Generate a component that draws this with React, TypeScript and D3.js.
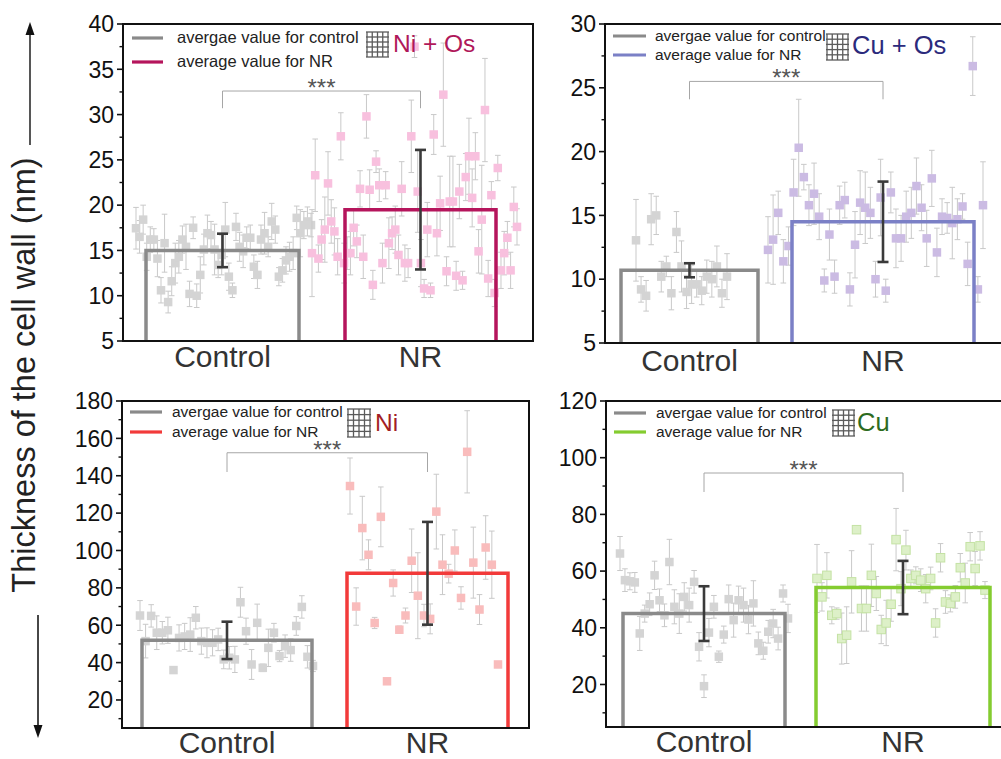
import React from "react";
import * as d3 from "d3";

// ---------- DATA ----------
const CATEGORIES = ["Control", "NR"];

// Panel 1: Ni + Os
const niOsDomain = [5, 40];
const niOsTicks = [5, 10, 15, 20, 25, 30, 35, 40];
const niOsMinor = [7.5, 12.5, 17.5, 22.5, 27.5, 32.5, 37.5];
const niOsMeans = [15.0, 19.5];
const niOsMeanErr = [1.85, 6.6];
const niOsSig = [32.6, 30.7];
const niOsCtrl = [17.45, 16.5, 18.4, 14.3, 16.2, 16.2, 14.1, 10.6, 15.8, 9.3, 11.6, 13.6, 14.3, 16.2, 15.4, 10.2, 17.5, 10.0, 12.3, 15.1, 16.9, 16.7, 15.1, 13.4, 14.5, 17.3, 12.1, 10.6, 17.6, 15.4, 14.9, 16.4, 16.4, 13.2, 12.3, 16.2, 16.9, 15.4, 18.2, 17.3, 12.1, 12.8, 13.9, 14.3, 14.7, 18.6, 16.9, 17.8, 18.2, 17.8];
const niOsCtrlErr = [2.3, 1.8, 1.6, 1.5, 1.4, 1.2, 2.0, 1.4, 3.2, 1.2, 1.6, 2.2, 1.8, 1.5, 2.5, 1.4, 1.2, 1.3, 2.0, 1.7, 2.0, 1.5, 2.8, 1.4, 2.2, 3.0, 1.5, 0.8, 1.5, 1.6, 1.8, 1.2, 1.4, 1.3, 1.5, 1.6, 2.3, 1.1, 2.0, 1.5, 1.0, 1.3, 1.5, 1.6, 1.8, 1.3, 2.6, 1.5, 1.6, 1.3];
const niOsNR = [14.7, 23.3, 14.1, 16.2, 17.3, 22.4, 18.2, 17.1, 14.3, 27.6, 13.6, 14.7, 14.7, 17.5, 16.0, 21.8, 14.3, 29.8, 21.7, 11.2, 24.8, 22.2, 13.6, 22.2, 15.8, 16.9, 17.3, 14.5, 21.8, 13.6, 13.6, 27.6, 37.5, 21.5, 13.6, 10.8, 17.3, 10.6, 27.8, 16.9, 20.2, 32.2, 12.7, 20.4, 20.4, 12.2, 21.5, 11.7, 23.1, 25.4, 20.8, 25.4, 14.9, 18.4, 30.5, 11.9, 21.1, 10.3, 24.1, 12.8, 14.7, 16.4, 12.8, 19.8, 17.6];
const niOsNRErr = [4.8, 4.0, 1.5, 2.2, 3.6, 3.5, 2.4, 2.6, 2.0, 2.6, 2.2, 1.8, 2.4, 2.0, 1.8, 2.0, 2.4, 2.4, 2.2, 1.6, 1.2, 1.8, 2.2, 1.5, 2.8, 1.8, 2.6, 2.2, 3.0, 2.0, 1.6, 4.0, 1.2, 4.5, 2.6, 1.0, 3.0, 0.8, 2.2, 2.5, 3.0, 5.7, 1.6, 5.0, 5.0, 1.6, 3.0, 1.0, 2.6, 4.2, 3.2, 2.6, 2.4, 6.0, 5.7, 2.0, 1.5, 1.5, 1.4, 2.0, 2.4, 1.8, 2.0, 2.2, 2.0];

// Panel 2: Cu + Os
const cuOsDomain = [5, 30];
const cuOsTicks = [5, 10, 15, 20, 25, 30];
const cuOsMinor = [7.5, 12.5, 17.5, 22.5, 27.5];
const cuOsMeans = [10.7, 14.5];
const cuOsMeanErr = [0.55, 3.15];
const cuOsSig = [25.5, 24.1];
const cuOsCtrl = [13.05, 9.2, 8.7, 14.7, 15.0, 10.2, 11.0, 8.9, 13.7, 11.0, 9.0, 9.6, 9.6, 9.1, 10.2, 10.0, 11.0, 8.9, 10.2];
const cuOsCtrlErr = [3.2, 1.0, 1.2, 2.0, 1.5, 1.2, 0.8, 1.3, 1.6, 2.0, 1.3, 1.5, 1.0, 1.1, 1.3, 1.4, 1.6, 1.1, 1.8];
const cuOsNR = [12.3, 13.1, 15.2, 11.4, 12.6, 16.8, 20.3, 18.0, 15.8, 16.7, 14.9, 9.9, 13.5, 10.2, 15.8, 16.2, 9.2, 12.7, 16.0, 15.6, 15.2, 10.0, 16.4, 9.1, 16.8, 13.2, 13.2, 14.9, 15.2, 17.3, 15.6, 13.2, 17.9, 12.1, 14.9, 14.8, 14.4, 14.7, 15.7, 11.2, 26.7, 9.2, 15.8];
const cuOsNRErr = [2.6, 3.5, 1.7, 1.7, 1.5, 2.6, 3.8, 1.0, 1.6, 2.4, 1.8, 0.9, 2.0, 1.3, 1.5, 1.4, 1.3, 2.6, 2.5, 2.8, 2.0, 1.4, 3.0, 0.9, 1.6, 2.3, 1.8, 2.0, 2.0, 2.2, 1.8, 2.2, 2.2, 1.9, 1.4, 1.2, 2.8, 1.6, 1.0, 1.7, 2.3, 1.0, 3.4];

// Panel 3: Ni
const niDomain = [5, 180];
const niTicks = [20, 40, 60, 80, 100, 120, 140, 160, 180];
const niMinor = [10, 30, 50, 70, 90, 110, 130, 150, 170];
const niMeans = [51.9, 87.8];
const niMeanErr = [10.0, 27.5];
const niSig = [152.3, 142.0];
const niCtrl = [65.2, 51.5, 65, 56, 56, 57.3, 36, 53.2, 54, 55, 64, 51.5, 50.6, 50.6, 52.4, 41.7, 42.6, 41.7, 72.3, 56.8, 39, 61.3, 37.2, 47.9, 56, 43.5, 48.8, 46.7, 59.6, 69.8, 43.1, 38.2];
const niCtrlErr = [8, 9, 6, 9, 6, 7, 1.5, 7, 7, 9, 6, 7, 8, 7, 6, 5, 6, 7, 8, 7, 8, 10, 2, 10, 5, 3, 6, 6, 5, 6, 6, 3];
const niNR = [134.5, 70, 112, 97.7, 61.2, 118, 30, 82.6, 57.6, 65.2, 94.5, 75.8, 65.2, 63.4, 120.8, 92.4, 87.6, 100, 74.6, 152.8, 93.5, 68.4, 101.6, 92.4, 39];
const niNRErr = [15, 10, 17, 8, 3, 16, 1.5, 7, 2, 4, 17, 23, 6, 8, 20, 16, 5, 11, 6, 22, 19, 8, 17, 18, 1.5];

// Panel 4: Cu
const cuDomain = [5, 120];
const cuTicks = [20, 40, 60, 80, 100, 120];
const cuMinor = [10, 30, 50, 70, 90, 110];
const cuMeans = [45.0, 54.2];
const cuMeanErr = [9.65, 9.4];
const cuSig = [94.6, 87.9];
const cuCtrl = [66.2, 56.8, 56.4, 56.0, 38.0, 45.0, 48.3, 58.5, 49.7, 44.4, 63.2, 47.4, 45.0, 50.9, 48.0, 56.2, 33.3, 19.4, 38.3, 47.4, 29.8, 37.6, 50.1, 42.7, 49.7, 48.0, 42.9, 48.6, 34.5, 31.9, 38.6, 41.5, 36.2, 52.1, 43.3];
const cuCtrlErr = [6, 4, 3, 3.5, 6, 3, 4, 5, 4, 4, 8, 6, 7, 5, 6, 4, 5, 4, 5, 4, 2, 3, 5, 6, 5, 6, 5, 8, 4, 3, 4, 5, 4, 3, 5];
const cuNR = [57.4, 50.9, 58.5, 44.4, 45, 36.2, 37.4, 56.2, 74.6, 46.8, 46.8, 58.5, 52.1, 39.4, 41.7, 48.3, 71.1, 53.8, 67.4, 57.4, 58.5, 56.8, 53.8, 57.4, 41.7, 64.7, 49.1, 48.6, 50.9, 61.2, 55.8, 68.6, 60.9, 68.9, 53.3];
const cuNRErr = [12, 5, 8, 3, 2, 9, 10, 11, 1, 8, 8, 11, 6, 5, 8, 6, 11, 6, 7, 3, 3, 4, 5, 4, 5, 5, 4, 3, 4, 5, 7, 5, 6, 5, 3];

const LEGEND_CTRL = "avergae value for control";
const LEGEND_NR = "average value for NR";
const AXIS_TITLE = "Thickness of the cell wall (nm)";

// ---------- STYLE / LAYOUT ----------
const FONT = "'Liberation Sans', Arial, Helvetica, sans-serif";
const CTRL_LINE = "#8a8a8a";
const CTRL_PT = "#d4d4d4";

const panels = [
  {
    id: "p1", title: "Ni + Os", titleColor: "#b0185a", nrColor: "#b5155c", nrPt: "#f8c0de", nrPtStroke: "none",
    domain: niOsDomain, ticks: niOsTicks, minor: niOsMinor, means: niOsMeans, meanErr: niOsMeanErr, sig: niOsSig,
    ctrl: niOsCtrl, ctrlErr: niOsCtrlErr, nr: niOsNR, nrErr: niOsNRErr,
    L: { axisX: 123, top: 24, bottom: 341, right: 533, ctrlBar: [146, 299], nrBar: [345, 496], ctrlPts: [136, 311], nrPts: [312, 517],
      leg: { x1: 132, x2: 163, y1: 38, y2: 62, tx: 177, fs: 16.5 }, title: { x: 393, y: 52, fs: 24.5 }, grid: { x: 367, y: 32, w: 21, h: 25 }, catY: 367, sq: 8.5 },
  },
  {
    id: "p2", title: "Cu + Os", titleColor: "#2b2a7c", nrColor: "#7b80c6", nrPt: "#cbbbe3", nrPtStroke: "none",
    domain: cuOsDomain, ticks: cuOsTicks, minor: cuOsMinor, means: cuOsMeans, meanErr: cuOsMeanErr, sig: cuOsSig,
    ctrl: cuOsCtrl, ctrlErr: cuOsCtrlErr, nr: cuOsNR, nrErr: cuOsNRErr,
    L: { axisX: 605, top: 24, bottom: 343, right: 1012, ctrlBar: [621, 758], nrBar: [792, 974], ctrlPts: [636, 727], nrPts: [768, 983],
      leg: { x1: 613, x2: 646, y1: 36, y2: 55, tx: 655, fs: 15.5 }, title: { x: 852, y: 54, fs: 25.5 }, grid: { x: 827, y: 34, w: 21, h: 26 }, catY: 371, sq: 8.5 },
  },
  {
    id: "p3", title: "Ni", titleColor: "#a31e24", nrColor: "#f23a3a", nrPt: "#f9bcbc", nrPtStroke: "none",
    domain: niDomain, ticks: niTicks, minor: niMinor, means: niMeans, meanErr: niMeanErr, sig: niSig,
    ctrl: niCtrl, ctrlErr: niCtrlErr, nr: niNR, nrErr: niNRErr,
    L: { axisX: 122, top: 401, bottom: 728, right: 529, ctrlBar: [142, 312], nrBar: [347, 508], ctrlPts: [140, 313], nrPts: [350, 498],
      leg: { x1: 130, x2: 162, y1: 412, y2: 432, tx: 172, fs: 15.5 }, title: { x: 375, y: 431, fs: 24.5 }, grid: { x: 348, y: 409, w: 22, h: 28 }, catY: 753, sq: 8.5 },
  },
  {
    id: "p4", title: "Cu", titleColor: "#2d6b1e", nrColor: "#84cc30", nrPt: "#ddf0c8", nrPtStroke: "#c4e2a4",
    domain: cuDomain, ticks: cuTicks, minor: cuMinor, means: cuMeans, meanErr: cuMeanErr, sig: cuSig,
    ctrl: cuCtrl, ctrlErr: cuCtrlErr, nr: cuNR, nrErr: cuNRErr,
    L: { axisX: 606, top: 401, bottom: 727, right: 1012, ctrlBar: [623, 785], nrBar: [816, 990], ctrlPts: [620, 788], nrPts: [817, 985],
      leg: { x1: 614, x2: 646, y1: 413, y2: 432, tx: 656, fs: 15.5 }, title: { x: 857, y: 431, fs: 25.5 }, grid: { x: 833, y: 410, w: 21, h: 26 }, catY: 752, sq: 8.5 },
  },
];

function Points({ vals, errs, x0, x1, y, fill, stroke, sq }) {
  const xs = d3.scaleLinear().domain([0, vals.length - 1]).range([x0, x1]);
  return (
    <g>
      {vals.map((v, i) => {
        const cx = xs(i);
        const yt = y(v + errs[i]);
        const yb = y(v - errs[i]);
        return (
          <g key={"e" + i} stroke="#c9c9c9" strokeWidth={1}>
            <line x1={cx} x2={cx} y1={yt} y2={yb} />
            <line x1={cx - 2.8} x2={cx + 2.8} y1={yt} y2={yt} />
            <line x1={cx - 2.8} x2={cx + 2.8} y1={yb} y2={yb} />
          </g>
        );
      })}
      {vals.map((v, i) => (
        <rect key={"s" + i} x={xs(i) - sq / 2} y={y(v) - sq / 2} width={sq} height={sq} fill={fill} stroke={stroke} strokeWidth={stroke === "none" ? 0 : 1} />
      ))}
    </g>
  );
}

function Panel({ p }) {
  const L = p.L;
  const y = d3.scaleLinear().domain(p.domain).range([L.bottom, L.top]);
  const bars = [L.ctrlBar, L.nrBar];
  const barColors = [CTRL_LINE, p.nrColor];
  const centers = bars.map((b) => (b[0] + b[1]) / 2);
  const clipId = "clip-" + p.id;
  const g = L.grid;
  return (
    <g>
      <defs>
        <clipPath id={clipId}>
          <rect x={L.axisX} y={L.top} width={L.right - L.axisX} height={L.bottom - L.top} />
        </clipPath>
      </defs>
      <g clipPath={`url(#${clipId})`}>
        <Points vals={p.ctrl} errs={p.ctrlErr} x0={L.ctrlPts[0]} x1={L.ctrlPts[1]} y={y} fill={CTRL_PT} stroke="none" sq={L.sq} />
        <Points vals={p.nr} errs={p.nrErr} x0={L.nrPts[0]} x1={L.nrPts[1]} y={y} fill={p.nrPt} stroke={p.nrPtStroke} sq={L.sq} />
        {p.means.map((m, i) => (
          <path key={"b" + i} d={`M${bars[i][0]},${L.bottom}L${bars[i][0]},${y(m)}L${bars[i][1]},${y(m)}L${bars[i][1]},${L.bottom}`}
            fill="none" stroke={barColors[i]} strokeWidth={3.5} />
        ))}
        {p.means.map((m, i) => {
          const cx = centers[i];
          const yt = y(m + p.meanErr[i]);
          const yb = y(m - p.meanErr[i]);
          return (
            <g key={"me" + i} stroke="#3a3a3a" strokeWidth={2.6}>
              <line x1={cx} x2={cx} y1={yt} y2={yb} />
              <line x1={cx - 5.5} x2={cx + 5.5} y1={yt} y2={yt} />
              <line x1={cx - 5.5} x2={cx + 5.5} y1={yb} y2={yb} />
            </g>
          );
        })}
      </g>
      {/* significance bracket */}
      <path d={`M${centers[0]},${y(p.sig[1])}L${centers[0]},${y(p.sig[0])}L${centers[1]},${y(p.sig[0])}L${centers[1]},${y(p.sig[1])}`}
        fill="none" stroke="#a6a6a6" strokeWidth={1} />
      <text x={(centers[0] + centers[1]) / 2} y={y(p.sig[0]) + 5} textAnchor="middle" fontFamily={FONT} fontSize={24} fill="#555">***</text>
      {/* frame */}
      <path d={`M${L.axisX},${L.top}L${L.right},${L.top}L${L.right},${L.bottom}L${L.axisX},${L.bottom}Z`} fill="none" stroke="#111" strokeWidth={2} />
      {/* y ticks */}
      {p.ticks.map((t) => (
        <g key={"t" + t}>
          <line x1={L.axisX - 6} x2={L.axisX} y1={y(t)} y2={y(t)} stroke="#111" strokeWidth={1.6} />
          <text x={L.axisX - 9} y={y(t)} dy="0.36em" textAnchor="end" fontFamily={FONT} fontSize={23} fill="#111">{t}</text>
        </g>
      ))}
      {p.minor.map((t) => (
        <line key={"m" + t} x1={L.axisX - 3.5} x2={L.axisX} y1={y(t)} y2={y(t)} stroke="#111" strokeWidth={1.4} />
      ))}
      {/* category labels */}
      {CATEGORIES.map((c, i) => (
        <text key={c} x={centers[i]} y={L.catY} textAnchor="middle" fontFamily={FONT} fontSize={30} fill="#333">{c}</text>
      ))}
      {/* legend */}
      <line x1={L.leg.x1} x2={L.leg.x2} y1={L.leg.y1} y2={L.leg.y1} stroke={CTRL_LINE} strokeWidth={3.2} />
      <line x1={L.leg.x1} x2={L.leg.x2} y1={L.leg.y2} y2={L.leg.y2} stroke={p.nrColor} strokeWidth={3.2} />
      <text x={L.leg.tx} y={L.leg.y1} dy="0.3em" fontFamily={FONT} fontSize={L.leg.fs} fill="#222">{LEGEND_CTRL}</text>
      <text x={L.leg.tx} y={L.leg.y2} dy="0.3em" fontFamily={FONT} fontSize={L.leg.fs} fill="#222">{LEGEND_NR}</text>
      {/* grid icon */}
      <g stroke="#5a5a5a" strokeWidth={1.3}>
        {d3.range(5).map((i) => (
          <line key={"gv" + i} x1={g.x + (i * g.w) / 4} x2={g.x + (i * g.w) / 4} y1={g.y} y2={g.y + g.h} />
        ))}
        {d3.range(6).map((j) => (
          <line key={"gh" + j} x1={g.x - 1} x2={g.x + g.w + 1} y1={g.y + (j * g.h) / 5} y2={g.y + (j * g.h) / 5} />
        ))}
      </g>
      <text x={L.title.x} y={L.title.y} fontFamily={FONT} fontSize={L.title.fs} fill={p.titleColor}>{p.title}</text>
    </g>
  );
}

export default function App() {
  return (
    <svg width={1001} height={759} style={{ position: "absolute", left: 0, top: 0, background: "#fff" }}>
      <rect x={0} y={0} width={1001} height={759} fill="#fff" />
      {panels.map((p) => (
        <Panel key={p.id} p={p} />
      ))}
      {/* shared y-axis title with arrows */}
      <text transform="translate(35,375) rotate(-90)" textAnchor="middle" fontFamily={FONT} fontSize={32.5} fill="#222">{AXIS_TITLE}</text>
      <line x1={30} x2={30} y1={145} y2={32} stroke="#444" strokeWidth={1.8} />
      <path d="M30,22L25.5,35L34.5,35Z" fill="#111" />
      <line x1={38} x2={38} y1={615} y2={728} stroke="#333" strokeWidth={1.8} />
      <path d="M38,738L33.5,725L42.5,725Z" fill="#111" />
    </svg>
  );
}
